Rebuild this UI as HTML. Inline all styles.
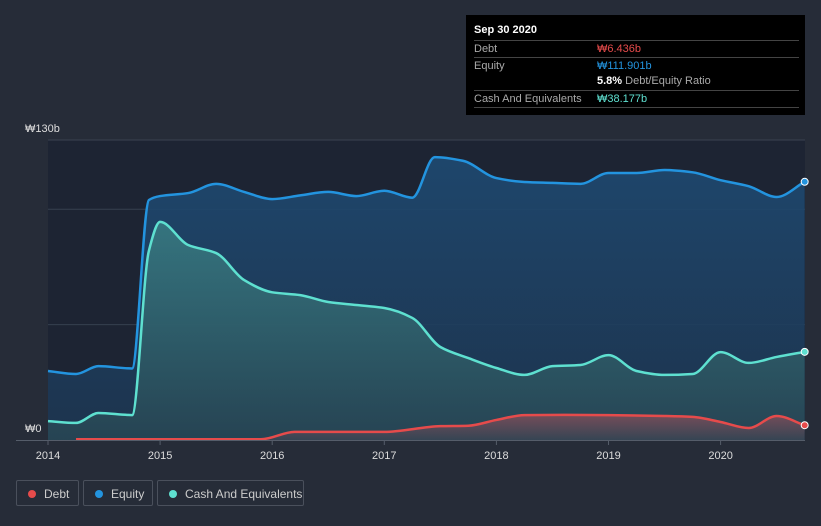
<!DOCTYPE html>
<html><head><meta charset="utf-8"><style>
body{margin:0;background:#262c38;font-family:"Liberation Sans",sans-serif;}
#wrap{position:relative;width:821px;height:526px;overflow:hidden;background:#262c38}
.tip{position:absolute;left:466px;top:15px;width:339px;height:100px;background:#000;color:#fff;font-size:11px}
.tip .row{position:absolute;left:8px;right:6px;border-top:1px solid #444;height:16px;line-height:16px}
.tip .l{position:absolute;left:0;color:#aaa}
.tip .v{position:absolute;left:123px}
.leg{position:absolute;top:480px;height:26px;border:1px solid #4a505c;border-radius:2px;color:#ccc;font-size:12px;line-height:26px;box-sizing:border-box}
.leg i{position:absolute;left:11px;top:9px;width:8px;height:8px;border-radius:50%}
.leg span{position:absolute;left:27px}
</style></head><body>
<div id="wrap">
<svg id="svg" width="821" height="526" style="position:absolute;left:0;top:0">
<defs>
<linearGradient id="ge" x1="0" y1="0" x2="0" y2="1"><stop offset="0" stop-color="#1e4a72" stop-opacity="0.9"/><stop offset="1" stop-color="#1d3550" stop-opacity="0.9"/></linearGradient>
<linearGradient id="gc" x1="0" y1="0" x2="0" y2="1"><stop offset="0" stop-color="#3f8a8a" stop-opacity="0.7"/><stop offset="1" stop-color="#2a4a55" stop-opacity="0.7"/></linearGradient>
<linearGradient id="gd" x1="0" y1="0" x2="0" y2="1"><stop offset="0" stop-color="#c0505a" stop-opacity="0.5"/><stop offset="1" stop-color="#c0505a" stop-opacity="0.1"/></linearGradient>
</defs>
<rect x="48" y="140" width="757" height="300" fill="#1d2433"/>
<g id="grid"></g><g id="series"></g><g id="axes"></g>
</svg>
<div class="tip">
<div style="position:absolute;left:8px;top:9px;font-weight:bold">Sep 30 2020</div>
<div class="row" style="top:25px"><span class="l">Debt</span><span class="v" style="color:#e64b4b">₩6.436b</span></div>
<div class="row" style="top:42px"><span class="l">Equity</span><span class="v" style="color:#2394df">₩111.901b</span></div>
<div style="position:absolute;left:131px;top:58px;line-height:16px"><b>5.8%</b> <span style="color:#aaa">Debt/Equity Ratio</span></div>
<div class="row" style="top:75px;border-bottom:1px solid #444"><span class="l">Cash And Equivalents</span><span class="v" style="color:#5ee0d0">₩38.177b</span></div>
</div>
<div class="leg" style="left:16px;width:63px"><i style="background:#e64b4b"></i><span>Debt</span></div>
<div class="leg" style="left:83px;width:70px"><i style="background:#2394df"></i><span>Equity</span></div>
<div class="leg" style="left:157px;width:147px"><i style="background:#5ee0d0"></i><span>Cash And Equivalents</span></div>
</div>
<script>
const equityT=[2014,2014.25,2014.45,2014.75,2014.9,2015,2015.25,2015.5,2015.75,2016,2016.25,2016.5,2016.75,2017,2017.25,2017.45,2017.7,2018,2018.25,2018.5,2018.75,2019,2019.25,2019.5,2019.75,2020,2020.25,2020.5,2020.75];
const equityV=[29.9,28.6,32,31,104,105.7,107,111,107.5,104.4,106,107.5,105.7,108,105,122.6,121,113.5,111.8,111.4,111,115.7,115.7,117,116,112.6,110,105.3,111.9];
const cashT=[2014,2014.25,2014.45,2014.75,2014.9,2015,2015.25,2015.5,2015.75,2016,2016.25,2016.5,2016.75,2017,2017.25,2017.5,2017.75,2018,2018.25,2018.5,2018.75,2019,2019.25,2019.5,2019.75,2020,2020.25,2020.5,2020.75];
const cashV=[8.2,7.4,11.7,10.8,82,94.5,84.5,81,69.3,64,62.8,59.8,58.5,57.2,52.9,40.3,35.5,31.2,28.2,32,32.5,36.8,29.9,28.2,28.6,38.1,33.4,36,38.2];
const debtT=[2014.25,2015,2015.9,2016.2,2016.6,2017,2017.5,2017.75,2018,2018.25,2018.6,2019,2019.5,2019.75,2020,2020.25,2020.5,2020.75];
const debtV=[0.3,0.3,0.3,3.5,3.5,3.5,6,6.2,8.7,10.8,10.9,10.8,10.4,10,7.8,5.2,10.4,6.4];
const yearTicks=[2014,2015,2016,2017,2018,2019,2020];
const yTicks=[0,50,100,130];
const X=t=>48+(t-2014)*112.1, Y=v=>440-v*300/130;
const NS='http://www.w3.org/2000/svg';
function mk(tag,attrs,parent){const e=document.createElementNS(NS,tag);for(const k in attrs)e.setAttribute(k,attrs[k]);parent.appendChild(e);return e;}
function path(T,V){const x=T.map(X),y=V.map(Y),n=x.length;const s=[],m=[];
for(let i=0;i<n-1;i++)s.push((y[i+1]-y[i])/(x[i+1]-x[i]));
m[0]=s[0];m[n-1]=s[n-2];
for(let i=1;i<n-1;i++){m[i]=(s[i-1]*s[i]<=0)?0:3*(s[i-1]+s[i])/ (2*(1/s[i-1]*0+1)*3) ;
 const h0=x[i]-x[i-1],h1=x[i+1]-x[i];m[i]=(s[i-1]*s[i]<=0)?0:(3*(h0+h1))/((2*h1+h0)/s[i-1]+(h1+2*h0)/s[i]);}
let d='M'+x[0]+','+y[0];
for(let i=0;i<n-1;i++){const h=(x[i+1]-x[i])/3;d+=`C${x[i]+h},${y[i]+m[i]*h} ${x[i+1]-h},${y[i+1]-m[i+1]*h} ${x[i+1]},${y[i+1]}`;}
return d;}
const grid=document.getElementById('grid'),ser=document.getElementById('series'),ax=document.getElementById('axes');
yTicks.forEach(v=>{if(v>0&&v<130){const l=mk('line',{x1:48,x2:805,y1:Y(v),y2:Y(v),stroke:'#36404f'},grid);}});
mk('line',{x1:48,x2:805,y1:140,y2:140,stroke:'#3a4250'},grid);
function series(T,V,col,grad,name){
const d=path(T,V);
const a=mk('path',{d:d+`L${X(T[T.length-1])},440L${X(T[0])},440Z`,fill:`url(#${grad})`},ser);

const l=mk('path',{d:d,fill:'none',stroke:col,'stroke-width':2.5},ser);

const c=mk('circle',{cx:X(T[T.length-1]),cy:Y(V[V.length-1]),r:3.5,fill:col,stroke:'#fff','stroke-width':1},ser);
}
series(equityT,equityV,'#2394df','ge','equity');
series(cashT,cashV,'#5ee0d0','gc','cash');
series(debtT,debtV,'#e64b4b','gd','debt');
mk('line',{x1:16,x2:805,y1:440.5,y2:440.5,stroke:'#555d6a'},ax);
yearTicks.forEach(t=>{mk('line',{x1:X(t),x2:X(t),y1:440,y2:445,stroke:'#555d6a'},ax);
const tx=mk('text',{x:X(t),y:459,fill:'#ddd','font-size':11,'text-anchor':'middle','font-family':'Liberation Sans'},ax);tx.textContent=t;
});
[[130,'₩130b',132],[0,'₩0',432]].forEach(([v,s,y])=>{const tx=mk('text',{x:25,y:y,fill:'#ddd','font-size':11,'font-family':'Liberation Sans'},ax);tx.textContent=s;
});
</script>
</body></html>
